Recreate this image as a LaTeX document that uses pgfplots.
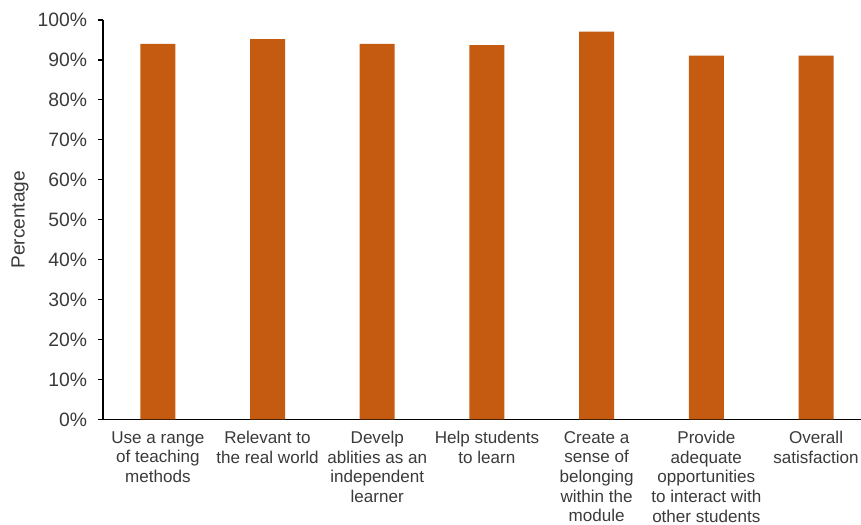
\documentclass[border=0pt]{standalone}
\usepackage{pgfplots}
\pgfplotsset{compat=1.18}
\usepackage{fontspec}
\setmainfont{Liberation Sans}
\definecolor{barc}{HTML}{C55A11}
\definecolor{txt}{HTML}{3A3A3A}
\begin{document}
\fontsize{12.8pt}{14.7pt}\selectfont
\begin{tikzpicture}
\begin{axis}[
  scale only axis,
  width=568.5pt, height=299.6pt,
  xmin=-0.5, xmax=6.41,
  ymin=0, ymax=100,
  axis x line*=bottom,
  axis y line*=left,
  axis line style={black, line width=0.9pt},
  ytick={0,10,...,100},
  yticklabel={\pgfmathprintnumber{\tick}\%},
  /pgf/number format/assume math mode=true,
  ytick style={black, line width=0.9pt},
  tick align=outside,
  major tick length=4pt,
  xtick={0,...,6},
  xticklabels={
    {Use a range\\of teaching\\methods},
    {Relevant to\\the real world},
    {Develp\\ablities as an\\independent\\learner},
    {Help students\\to learn},
    {Create a\\sense of\\belonging\\within the\\module},
    {Provide\\adequate\\opportunities\\to interact with\\other students},
    {Overall\\satisfaction}},
  xticklabel style={align=center, anchor=north, font=\fontsize{12.8pt}{14.7pt}\selectfont, text=txt, yshift=-0.5pt},
  yticklabel style={font=\fontsize{14.5pt}{16pt}\selectfont, text=txt, xshift=-3.4pt},
  x tick style={draw=none},
  extra x ticks={0.5,1.5,2.5,3.5,4.5,5.5},
  extra x tick labels={},
  extra x tick style={major tick length=5pt, tick style={draw=black, line width=0.9pt}, grid=none},
  ylabel={Percentage},
  ylabel style={font=\fontsize{14.3pt}{16pt}\selectfont, text=txt, at={(axis description cs:-0.1095,0.5)}, anchor=center},
  ymajorgrids=false,
  clip=false,
]
\addplot[ybar, bar width=26.25pt, fill=barc, draw=none] coordinates {
  (0,94.0) (1,95.2) (2,94.0) (3,93.7) (4,97.1) (5,91.1) (6,91.1)
};
\coordinate (bl) at (rel axis cs:0,0);
\coordinate (tr) at (rel axis cs:1,1);
\end{axis}
\pgfresetboundingbox
\path[use as bounding box] ([xshift=-77.25pt,yshift=-79pt]bl) rectangle ([yshift=15pt]tr);
\end{tikzpicture}
\end{document}
